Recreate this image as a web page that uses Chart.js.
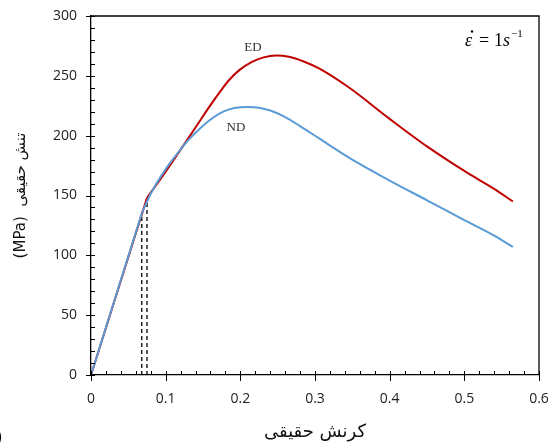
<!DOCTYPE html>
<html>
<head>
<meta charset="utf-8">
<script src="https://cdn.jsdelivr.net/npm/chart.js@4.4.1/dist/chart.umd.min.js"></script>
<style>
  html, body { margin: 0; padding: 0; background: #fff; }
  #wrap { width: 549px; height: 443px; position: relative; }
</style>
</head>
<body>
<div id="wrap"><canvas id="stressChart"></canvas></div>
<script>
// Data (true strain, true stress MPa)
// index 1 is the end of the elastic part
const strainND = [0, 0.068, 0.08, 0.1, 0.115, 0.13, 0.146, 0.16, 0.172, 0.185, 0.2, 0.21, 0.225, 0.24, 0.257, 0.28, 0.306, 0.346, 0.4, 0.45, 0.5, 0.54, 0.565];
const stressND = [0, 135, 151.5, 172, 184.5, 196, 206, 213.5, 218.5, 222, 223.8, 224, 223.3, 221, 216.5, 208, 197.5, 181.5, 162.5, 146, 129.5, 116.5, 107];
const strainED = [0, 0.075, 0.1, 0.13, 0.146, 0.16, 0.172, 0.185, 0.199, 0.215, 0.23, 0.248, 0.265, 0.285, 0.306, 0.346, 0.4, 0.45, 0.5, 0.54, 0.565];
const stressED = [0, 148, 170, 197.5, 212.5, 225.5, 236, 246.5, 255, 261.5, 265.2, 267, 266, 262, 256, 240, 214, 191, 170.5, 155.5, 145];
const dashStrain = [0.068, 0.075];
const dashStress = [135, 148];
const xTicks = [0, 0.1, 0.2, 0.3, 0.4, 0.5, 0.6];
const yTicks = [0, 50, 100, 150, 200, 250, 300];

const toPoints = (xs, ys) => xs.map((x, i) => ({ x: x, y: ys[i] }));

function curve(label, xs, ys, color) {
  const pts = toPoints(xs, ys);
  return [
    { label: label + ' elastic', data: pts.slice(0, 2), borderColor: color, borderWidth: 2, pointRadius: 0, tension: 0 },
    { label: label, data: pts.slice(1), borderColor: color, borderWidth: 2, pointRadius: 0, cubicInterpolationMode: 'monotone' }
  ];
}

const datasets = [
  ...curve('ND', strainND, stressND, '#5B9BD5'),
  ...curve('ED', strainED, stressED, '#C00000')
];
dashStrain.forEach((s, i) => {
  datasets.push({
    label: 'dash' + i,
    data: [{ x: s, y: 0 }, { x: s, y: dashStress[i] }],
    borderColor: '#000',
    borderWidth: 1.3,
    borderDash: [4, 3],
    pointRadius: 0
  });
});

// no extra space for overhanging tick labels, layout padding decides
const noOverhang = s => { s.paddingTop = 0; s.paddingBottom = 0; s.paddingLeft = 0; s.paddingRight = 0; };

// frame, ticks and in-plot labels
const decorations = {
  id: 'decorations',
  afterDraw(chart) {
    const c = chart.ctx;
    const a = chart.chartArea;
    const xs = chart.scales.x, ys = chart.scales.y;
    c.save();
    c.strokeStyle = '#000';
    c.lineWidth = 1.3;
    c.beginPath();
    c.moveTo(a.left, a.top); c.lineTo(a.right, a.top); c.lineTo(a.right, a.bottom);
    c.stroke();
    c.lineWidth = 1;
    c.beginPath();
    for (let v = 0; v <= 300; v += 10) {
      const py = Math.round(ys.getPixelForValue(v)) + 0.5;
      const major = v % 50 === 0;
      c.moveTo(a.left - (major ? 5 : 0), py);
      c.lineTo(a.left + 4, py);
    }
    for (let k = 0; k <= 30; k++) {
      const px = Math.round(xs.getPixelForValue(k * 0.02)) + 0.5;
      const major = k % 5 === 0;
      c.moveTo(px, a.bottom + (major ? 6 : 0));
      c.lineTo(px, a.bottom - 4);
    }
    c.stroke();

    c.fillStyle = '#333';
    c.font = '13px "Liberation Serif"';
    c.textAlign = 'center';
    c.textBaseline = 'alphabetic';
    c.fillText('ED', 253, 51);
    c.fillText('ND', 236, 131);

    // strain rate label
    c.fillStyle = '#000';
    c.textAlign = 'left';
    c.font = 'italic 18px "Liberation Serif"';
    c.fillText('\u03B5', 465, 46);
    c.beginPath();
    c.arc(472, 31.5, 1.2, 0, Math.PI * 2);
    c.fill();
    c.font = '18px "Liberation Serif"';
    c.fillText('=', 479, 46);
    c.fillText('1', 494, 46);
    c.font = 'italic 18px "Liberation Serif"';
    c.fillText('s', 503, 46);
    c.font = '11px "Liberation Serif"';
    c.fillText('\u22121', 511, 37);

    c.font = '16px "Open Sans"';
    c.fillText(')', -3, 442);
    c.restore();
  }
};

const ctx = document.getElementById('stressChart').getContext('2d');
const chart = new Chart(ctx, {
  type: 'line',
  data: { datasets: datasets },
  options: {
    responsive: true,
    maintainAspectRatio: false,
    animation: false,
    layout: { padding: { top: 16, right: 10, left: 0, bottom: 0 } },
    plugins: { legend: { display: false }, tooltip: { enabled: false } },
    scales: {
      x: {
        type: 'linear',
        min: 0,
        max: 0.6,
        afterBuildTicks: s => { s.ticks = xTicks.map(v => ({ value: v })); },
        afterFit: s => { s.height = 68; noOverhang(s); },
        grid: { display: true, drawOnChartArea: false, drawTicks: false },
        border: { display: true, color: '#000', width: 1.3 },
        ticks: {
          padding: 16,
          color: '#222',
          font: { family: 'Open Sans', size: 14 },
          maxRotation: 0,
          callback: v => String(+v.toFixed(1))
        },
        title: {
          display: true,
          text: 'کرنش حقیقی',
          color: '#111',
          font: { family: 'DejaVu Sans', size: 18 },
          padding: { top: 0, bottom: 0 }
        }
      },
      y: {
        min: 0,
        max: 300,
        afterBuildTicks: s => { s.ticks = yTicks.map(v => ({ value: v })); },
        afterFit: s => { s.width = 91; noOverhang(s); },
        grid: { display: true, drawOnChartArea: false, drawTicks: false },
        border: { display: true, color: '#000', width: 1.3 },
        ticks: {
          padding: 14,
          color: '#222',
          font: { family: 'Open Sans', size: 14 }
        },
        title: {
          display: true,
          text: '(MPa)  تنش حقیقی',
          color: '#111',
          font: { family: 'DejaVu Sans', size: 15 },
          padding: { top: 12, bottom: 0 }
        }
      }
    }
  },
  plugins: [decorations]
});
</script>
</body>
</html>
